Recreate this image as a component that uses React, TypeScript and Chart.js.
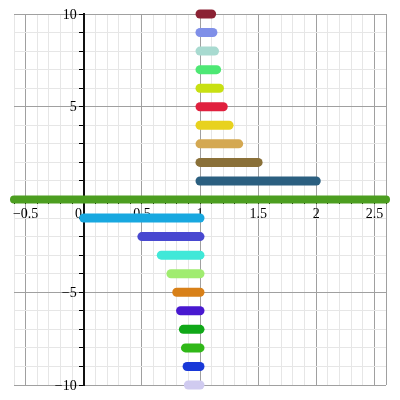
import { useEffect, useRef } from "react";
import { Chart, registerables } from "chart.js";

Chart.register(...registerables);

// Axis ranges
const xMin = -0.6;
const xMax = 2.6;
const yMin = -10;
const yMax = 10;

// Segments above the axis: from the pivot (x = 1) to an end value
const pivotX = 1;
const posLevels = [1, 2, 3, 4, 5, 6, 7, 8, 9, 10];
const posEnds = [2, 1.5, 1.333, 1.25, 1.2, 1.167, 1.143, 1.125, 1.111, 1.1];
const posColors = [
  "#2b5f80", "#8a7038", "#d4a852", "#e8d21e", "#e0203e",
  "#c8e012", "#4de874", "#a8dad0", "#7f8fe8", "#8b2234",
];

// Segments below the axis: from a start value to the pivot (x = 1)
const negLevels = [-1, -2, -3, -4, -5, -6, -7, -8, -9, -10];
const negStarts = [0, 0.5, 0.667, 0.75, 0.8, 0.833, 0.857, 0.875, 0.889, 0.9];
const negColors = [
  "#18a8e0", "#4848d0", "#40e8d8", "#a0ec70", "#d88018",
  "#4818d0", "#10a818", "#30b818", "#1838d8", "#d0cbf0",
];

// Horizontal line along y = 0
const baseLineY = 0;
const baseLineColor = "#4c9e20";

// Tick labels
const xLabelValues = [-0.5, 0, 0.5, 1, 1.5, 2, 2.5];
const xLabelTexts = ["\u22120.5", "0   ", "0.5", "1", "1.5", "2", "2.5"];
const yLabelValues = [10, 5, -5, -10];
const yLabelTexts = ["10", "5", "\u22125", "\u221210"];

const MAJOR = "#a0a0a0";
const MINOR = "#e6e6e6";
const FONT_FAMILY = '"Liberation Serif", "Times New Roman", serif';
const FONT = { family: FONT_FAMILY, size: 14 };

function findLabel(values: number[], texts: string[], v: number): string {
  const i = values.findIndex((t) => Math.abs(t - v) < 1e-6);
  return i >= 0 ? texts[i] : "";
}

// Draws the y tick labels just left of the vertical axis (at x = 0)
const yLabelPlugin = {
  id: "yLabelPlugin",
  afterDraw(chart: any) {
    const xs = chart.scales.x;
    const ys = chart.scales.y;
    const ctx = chart.ctx;
    const axisX = xs.getPixelForValue(0);
    ctx.save();
    ctx.font = `14px ${FONT_FAMILY}`;
    ctx.fillStyle = "#000";
    ctx.textAlign = "right";
    ctx.textBaseline = "middle";
    yLabelValues.forEach((v, i) => {
      ctx.fillText(yLabelTexts[i], axisX - 7, ys.getPixelForValue(v) + 1);
    });
    ctx.restore();
  },
};

export default function App() {
  const canvasRef = useRef<HTMLCanvasElement | null>(null);

  useEffect(() => {
    const canvas = canvasRef.current;
    if (!canvas) return;

    const datasets: any[] = [];
    datasets.push({
      data: [
        { x: xMin, y: baseLineY },
        { x: xMax, y: baseLineY },
      ],
      borderColor: baseLineColor,
      borderWidth: 8,
      borderCapStyle: "round",
      clip: false,
      order: 5,
    });
    posLevels.forEach((lv, i) => {
      datasets.push({
        data: [
          { x: pivotX, y: lv },
          { x: posEnds[i], y: lv },
        ],
        borderColor: posColors[i],
        borderWidth: 9,
        borderCapStyle: "round",
        clip: false,
      });
    });
    negLevels.forEach((lv, i) => {
      datasets.push({
        data: [
          { x: negStarts[i], y: lv },
          { x: pivotX, y: lv },
        ],
        borderColor: negColors[i],
        borderWidth: 9,
        borderCapStyle: "round",
        clip: false,
      });
    });

    const chart = new Chart(canvas, {
      type: "scatter",
      data: { datasets },
      plugins: [yLabelPlugin],
      options: {
        animation: false,
        responsive: false,
        showLine: true,
        elements: { point: { radius: 0, hoverRadius: 0 } },
        layout: { padding: { left: 14, top: 14, right: 14, bottom: 15 } },
        plugins: { legend: { display: false }, tooltip: { enabled: false } },
        scales: {
          x: {
            type: "linear",
            min: xMin,
            max: xMax,
            position: "bottom",
            ticks: { display: false, stepSize: 0.1, autoSkip: false },
            grid: {
              drawTicks: false,
              color: (ctx: any) => {
                const v = ctx.tick ? ctx.tick.value : 0;
                if (Math.abs(v - xMax) < 1e-6) return MAJOR;
                return Math.abs(v * 2 - Math.round(v * 2)) < 1e-6 ? MAJOR : MINOR;
              },
            },
            border: { display: false },
          },
          y: {
            type: "linear",
            min: yMin,
            max: yMax,
            position: "left",
            ticks: { display: false, stepSize: 1 },
            grid: {
              drawTicks: false,
              color: (ctx: any) => {
                const v = ctx.tick ? ctx.tick.value : 0;
                return Math.abs(v / 5 - Math.round(v / 5)) < 1e-6 ? MAJOR : MINOR;
              },
            },
            border: { display: false },
          },
          xAxis: {
            type: "linear",
            axis: "x",
            min: xMin,
            max: xMax,
            position: { y: 0 },
            z: 1,
            ticks: {
              stepSize: 0.1,
              autoSkip: false,
              maxRotation: 0,
              color: "#000",
              font: FONT,
              padding: 2,
              callback: (v: any) => findLabel(xLabelValues, xLabelTexts, Number(v)),
            },
            grid: {
              drawOnChartArea: false,
              drawTicks: true,
              tickLength: 4,
              tickColor: "#000",
            },
            border: { display: true, color: "rgba(0,0,0,0.45)", width: 1 },
          },
          yAxis: {
            type: "linear",
            axis: "y",
            min: yMin,
            max: yMax,
            position: { x: 0 },
            z: 1,
            ticks: {
              stepSize: 1,
              autoSkip: false,
              display: false,
            },
            grid: {
              drawOnChartArea: false,
              drawTicks: true,
              tickLength: 4,
              tickColor: "#000",
            },
            border: { display: true, color: "#111", width: 2 },
          },
        },
      } as any,
    });

    return () => chart.destroy();
  }, []);

  return (
    <div style={{ position: "absolute", left: 0, top: 0, width: 400, height: 400 }}>
      <canvas ref={canvasRef} width={400} height={400} />
    </div>
  );
}
